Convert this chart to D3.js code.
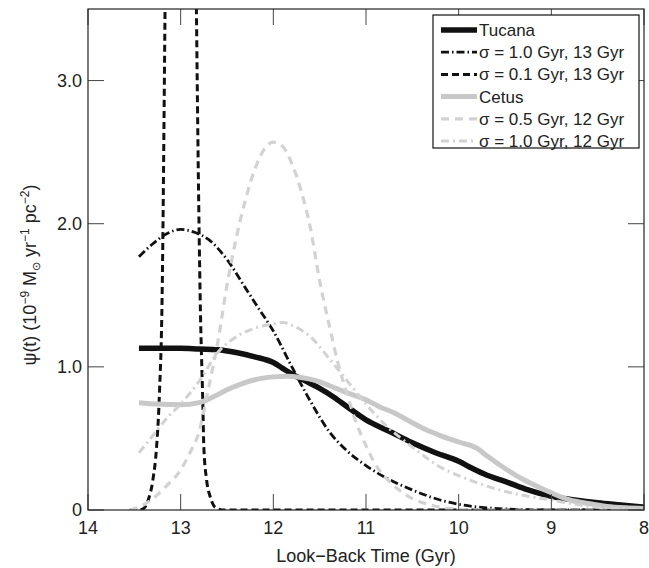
<!DOCTYPE html>
<html>
<head>
<meta charset="utf-8">
<script src="https://cdn.jsdelivr.net/npm/d3@7"></script>
<style>
body { margin: 0; background: #fff; }
text { font-family: "Liberation Sans", Arial, sans-serif; fill: #222; }
</style>
</head>
<body>
<svg id="chart" width="649" height="568"></svg>
<script>
// tick values / labels
var xTicks = [14, 13, 12, 11, 10, 9, 8];
var yTicks = [0, 1, 2, 3];
var yTickLabels = ["0", "1.0", "2.0", "3.0"];

// [look-back time (Gyr), SFR]
var tucana = [[13.45,1.13],[13.2,1.13],[13.0,1.13],[12.8,1.125],[12.6,1.12],[12.4,1.10],[12.2,1.07],[12.0,1.03],[11.9,0.99],[11.8,0.95],[11.65,0.9],[11.5,0.85],[11.35,0.79],[11.2,0.72],[11.0,0.63],[10.75,0.55],[10.5,0.47],[10.25,0.40],[10.0,0.34],[9.85,0.29],[9.7,0.245],[9.5,0.2],[9.25,0.14],[9.0,0.095],[8.75,0.07],[8.5,0.05],[8.25,0.035],[8.0,0.02]];
var sig10at13 = [[13.45,1.77],[13.3,1.86],[13.15,1.93],[13.0,1.96],[12.85,1.94],[12.7,1.89],[12.5,1.75],[12.3,1.55],[12.15,1.40],[12.0,1.25],[11.8,1.0],[11.6,0.76],[11.4,0.55],[11.2,0.41],[11.0,0.31],[10.8,0.23],[10.5,0.14],[10.2,0.07],[10.0,0.04],[9.7,0.015],[9.4,0.005],[9.0,0],[8.0,0]];
var sig01at13 = [[13.55,0],[13.45,0],[13.4,0.01],[13.35,0.07],[13.3,0.21],[13.26,0.44],[13.23,0.8],[13.2,1.5],[13.17,3.4],[13.1,9],[13.0,12],[12.9,9],[12.83,3.5],[12.79,1.5],[12.76,0.72],[12.75,0.44],[12.72,0.21],[12.68,0.09],[12.63,0.02],[12.55,0],[8.0,0]];
var cetus = [[13.45,0.75],[13.25,0.74],[13.0,0.735],[12.8,0.75],[12.65,0.79],[12.5,0.84],[12.35,0.88],[12.2,0.91],[12.0,0.93],[11.85,0.935],[11.7,0.925],[11.55,0.905],[11.4,0.87],[11.25,0.83],[11.0,0.77],[10.85,0.72],[10.7,0.68],[10.5,0.61],[10.35,0.56],[10.2,0.52],[10.0,0.475],[9.8,0.43],[9.7,0.38],[9.5,0.29],[9.35,0.23],[9.2,0.18],[9.0,0.12],[8.8,0.07],[8.6,0.045],[8.4,0.025],[8.2,0.015],[8.0,0.01]];
var sig05at12 = [[13.55,0],[13.45,0.02],[13.3,0.08],[13.15,0.17],[13.0,0.28],[12.9,0.4],[12.8,0.55],[12.7,0.85],[12.6,1.17],[12.5,1.57],[12.4,1.9],[12.3,2.17],[12.2,2.38],[12.1,2.52],[12.0,2.57],[11.9,2.54],[11.8,2.42],[11.7,2.23],[11.6,1.97],[11.5,1.6],[11.4,1.3],[11.3,1.02],[11.2,0.8],[11.1,0.6],[11.0,0.45],[10.9,0.32],[10.75,0.2],[10.6,0.12],[10.5,0.08],[10.3,0.035],[10.1,0.01],[9.8,0],[8.0,0]];
var sig10at12 = [[13.45,0.4],[13.3,0.52],[13.15,0.64],[13.0,0.74],[12.8,0.9],[12.6,1.1],[12.4,1.21],[12.2,1.27],[12.0,1.3],[11.9,1.31],[11.8,1.29],[11.6,1.21],[11.4,1.06],[11.2,0.9],[11.0,0.74],[10.8,0.6],[10.6,0.49],[10.4,0.39],[10.2,0.3],[10.0,0.24],[9.8,0.19],[9.5,0.13],[9.2,0.09],[9.0,0.07],[8.75,0.04],[8.5,0.02],[8.25,0.01],[8.0,0.005]];

var labels = ["Tucana", "\u03c3 = 1.0 Gyr, 13 Gyr", "\u03c3 = 0.1 Gyr, 13 Gyr", "Cetus", "\u03c3 = 0.5 Gyr, 12 Gyr", "\u03c3 = 1.0 Gyr, 12 Gyr"];

var styles = [
  {color: "#111", width: 5.5, dash: null},
  {color: "#111", width: 2.8, dash: "8,3,1.5,3"},
  {color: "#111", width: 3, dash: "7,4"},
  {color: "#c8c8c8", width: 5, dash: null},
  {color: "#d2d2d2", width: 3.2, dash: "8,6"},
  {color: "#d2d2d2", width: 3, dash: "8,4,2,4"}
];
var series = [tucana, sig10at13, sig01at13, cetus, sig05at12, sig10at12];

var svg = d3.select("#chart");
var margin = {top: 9, right: 5, bottom: 58, left: 88};
var width = 649 - margin.left - margin.right;
var height = 568 - margin.top - margin.bottom;

var x = d3.scaleLinear().domain([14, 8]).range([0, width]);
var y = d3.scaleLinear().domain([0, 3.5]).range([height, 0]);

var g = svg.append("g")
    .attr("transform", "translate(" + margin.left + "," + margin.top + ")");

g.append("clipPath").attr("id", "clip")
  .append("rect")
    .attr("width", width)
    .attr("height", height);

var line = d3.line()
    .x(d => x(d[0]))
    .y(d => y(d[1]))
    .curve(d3.curveMonotoneX);

var plot = g.append("g").attr("clip-path", "url(#clip)");

plot.selectAll("path")
  .data(series)
  .join("path")
    .attr("d", d => line(d))
    .attr("fill", "none")
    .attr("stroke", (d, i) => styles[i].color)
    .attr("stroke-width", (d, i) => styles[i].width)
    .attr("stroke-dasharray", (d, i) => styles[i].dash);

// ticks, inward on all four sides
var tickLen = 16;
var ticks = g.append("g").attr("stroke", "#444").attr("stroke-width", 1);
xTicks.forEach(function(t) {
  ticks.append("line").attr("x1", x(t)).attr("x2", x(t)).attr("y1", height).attr("y2", height - tickLen);
  ticks.append("line").attr("x1", x(t)).attr("x2", x(t)).attr("y1", 0).attr("y2", tickLen);
});
yTicks.forEach(function(v) {
  ticks.append("line").attr("x1", 0).attr("x2", tickLen).attr("y1", y(v)).attr("y2", y(v));
  ticks.append("line").attr("x1", width).attr("x2", width - tickLen).attr("y1", y(v)).attr("y2", y(v));
});

g.append("rect")
    .attr("width", width)
    .attr("height", height)
    .attr("fill", "none")
    .attr("stroke", "#222")
    .attr("stroke-width", 1.2);

g.selectAll(".xlab")
  .data(xTicks)
  .join("text")
    .attr("class", "xlab")
    .attr("x", d => x(d))
    .attr("y", height + 24)
    .attr("text-anchor", "middle")
    .style("font-size", "18px")
    .text(d => d);

g.selectAll(".ylab")
  .data(yTicks)
  .join("text")
    .attr("class", "ylab")
    .attr("x", -6)
    .attr("y", d => y(d) + 6)
    .attr("text-anchor", "end")
    .style("font-size", "18px")
    .text((d, i) => yTickLabels[i]);

// axis titles
g.append("text")
    .attr("x", width / 2)
    .attr("y", height + 52)
    .attr("text-anchor", "middle")
    .style("font-size", "18px")
    .text("Look\u2212Back Time (Gyr)");

var ytitle = svg.append("text")
    .attr("transform", "translate(36," + 275 + ") rotate(-90)")
    .attr("text-anchor", "middle")
    .style("font-size", "18px");
ytitle.append("tspan").text("\u03c8(t) (10");
ytitle.append("tspan").attr("dy", -7).style("font-size", "12px").text("\u22129");
ytitle.append("tspan").attr("dy", 7).text(" M");
ytitle.append("tspan").attr("dy", 4).style("font-size", "11px").text("\u2299");
ytitle.append("tspan").attr("dy", -4).text(" yr");
ytitle.append("tspan").attr("dy", -7).style("font-size", "12px").text("\u22121");
ytitle.append("tspan").attr("dy", 7).text(" pc");
ytitle.append("tspan").attr("dy", -7).style("font-size", "12px").text("\u22122");
ytitle.append("tspan").attr("dy", 7).text(")");

// legend
var legend = svg.append("g").attr("transform", "translate(433,15)");
legend.append("rect")
    .attr("width", 206)
    .attr("height", 133)
    .attr("fill", "white")
    .attr("stroke", "#111")
    .attr("stroke-width", 1.2);

var rows = legend.selectAll(".row")
  .data(labels)
  .join("g")
    .attr("class", "row")
    .attr("transform", (d, i) => "translate(0," + (15 + i * 22.2) + ")");

rows.append("line")
    .attr("x1", 8)
    .attr("x2", 44)
    .attr("stroke", (d, i) => styles[i].color)
    .attr("stroke-width", (d, i) => styles[i].width)
    .attr("stroke-dasharray", (d, i) => styles[i].dash);

rows.append("text")
    .attr("x", 46)
    .attr("y", 6)
    .style("font-size", "17px")
    .text(d => d);
</script>
</body>
</html>
